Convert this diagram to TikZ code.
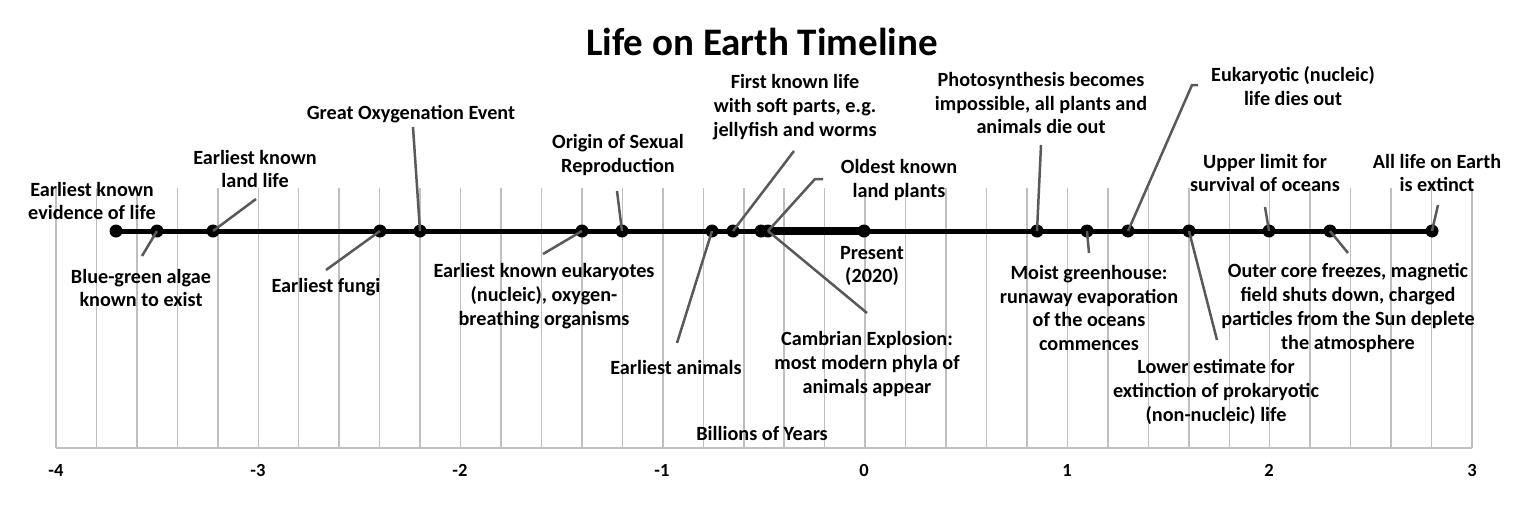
\documentclass[tikz,border=0pt]{standalone}
\usepackage{fontspec}
\setmainfont{Carlito}
\begin{document}
\begin{tikzpicture}[x=1pt,y=-1pt,
  lbl/.style={font=\bfseries\fontsize{20.2}{23.8}\selectfont,align=center,inner sep=0pt},
  dot/.style={circle,fill=black,minimum size=13pt,inner sep=0pt},
  lead/.style={draw=black!65,line width=2.5pt},
  grid/.style={draw=black!25,line width=1.5pt},
  tick/.style={font=\bfseries\fontsize{18.5}{22}\selectfont,inner sep=0pt}]
\useasboundingbox (0,0) rectangle (1522,509);
\fill[white] (0,0) rectangle (1522,509);
% grid
\foreach \i in {0,...,35}{
  \draw[grid] ({56+\i*40.4571},188) -- ({56+\i*40.4571},448);
}
\draw[grid] (56,448) -- (1472,448);
% title
\node[font=\bfseries\fontsize{39}{44}\selectfont,inner sep=0pt] (title) at (762,42) {Life on Earth Timeline};
% tick labels
\foreach \v/\xx in {-4/56,-3/258,-2/460,-1/662,0/864,1/1067,2/1269,3/1472}{
  \node[tick] at (\xx,470) {\v};
}
\node[lbl] (axis) at (762,433) {Billions of Years};
% timeline
\draw[line width=5pt] (116,231) -- (1431,231);
\draw[line width=7.5pt] (757,231) -- (864,231);
% dots
\node[dot] (e1) at (116,231) {};
\node[dot] (e2) at (157,231) {};
\node[dot] (e3) at (213,231) {};
\node[dot] (e4) at (380,231) {};
\node[dot] (e5) at (420,231) {};
\node[dot] (e6) at (582,231) {};
\node[dot] (e7) at (622,231) {};
\node[dot] (e8) at (712,231) {};
\node[dot] (e9) at (733,231) {};
\node[dot] (e10) at (761,231) {};
\node[dot] (e11) at (768,231) {};
\node[dot] (e12) at (864,231) {};
\node[dot] (e13) at (1037,231) {};
\node[dot] (e14) at (1087,231) {};
\node[dot] (e15) at (1128,231) {};
\node[dot] (e16) at (1189,231) {};
\node[dot] (e17) at (1269,231) {};
\node[dot] (e18) at (1330,231) {};
\node[dot] (e19) at (1432,231) {};
% labels
\node[lbl] (l1) at (92,201) {Earliest known\\evidence of life};
\node[lbl] (l2) at (141,288) {Blue-green algae\\known to exist};
\node[lbl] (l3) at (255,169) {Earliest known\\land life};
\node[lbl] (l4) at (326,287) {Earliest fungi};
\node[lbl] (l5) at (411,114) {Great Oxygenation Event};
\node[lbl] (l6) at (544,296) {Earliest known eukaryotes\\(nucleic), oxygen-\\breathing organisms};
\node[lbl] (l7) at (618,155) {Origin of Sexual\\Reproduction};
\node[lbl] (l8) at (676,367) {Earliest animals};
\node[lbl] (l9) at (795,107) {First known life\\with soft parts, e.g.\\jellyfish and worms};
\node[lbl] (l10) at (867,364) {Cambrian Explosion:\\most modern phyla of\\animals appear};
\node[lbl] (l11) at (899,180) {Oldest known\\land plants};
\node[lbl] (l12) at (872,266) {Present\\(2020)};
\node[lbl] (l13) at (1041,103) {Photosynthesis becomes\\impossible, all plants and\\animals die out};
\node[lbl] (l14) at (1089,308) {Moist greenhouse:\\runaway evaporation\\of the oceans\\commences};
\node[lbl] (l15) at (1293,86) {Eukaryotic (nucleic)\\life dies out};
\node[lbl] (l16) at (1216,392) {Lower estimate for\\extinction of prokaryotic\\(non-nucleic) life};
\node[lbl] (l17) at (1265,173) {Upper limit for\\survival of oceans};
\node[lbl] (l18) at (1348,308) {Outer core freezes, magnetic\\field shuts down, charged\\particles from the Sun deplete\\the atmosphere};
\node[lbl] (l19) at (1437,173) {All life on Earth\\is extinct};
% leader ends
\coordinate (c2) at (142,256);
\coordinate (c3) at (256,199);
\coordinate (c4) at (326,270);
\coordinate (c5) at (413,127);
\coordinate (c6) at (543,254);
\coordinate (c7) at (617,191);
\coordinate (c8) at (677,343);
\coordinate (c9) at (794,151);
\coordinate (c10) at (867,313);
\coordinate (c11a) at (815,179);
\coordinate (c11b) at (823,179);
\coordinate (c13) at (1041,145);
\coordinate (c14) at (1089,253);
\coordinate (c15a) at (1192,85);
\coordinate (c15b) at (1198,85);
\coordinate (c16) at (1217,340);
\coordinate (c17) at (1265,207);
\coordinate (c18) at (1348,253);
\coordinate (c19) at (1438,205);
% leaders
\draw[lead] (e2.center) -- (c2);
\draw[lead] (e3.center) -- (c3);
\draw[lead] (e4.center) -- (c4);
\draw[lead] (e5.center) -- (c5);
\draw[lead] (e6.center) -- (c6);
\draw[lead] (e7.center) -- (c7);
\draw[lead] (e8.center) -- (c8);
\draw[lead] (e9.center) -- (c9);
\draw[lead] (e11.center) -- (c10);
\draw[lead] (e11.center) -- (c11a) -- (c11b);
\draw[lead] (e13.center) -- (c13);
\draw[lead] (e14.center) -- (c14);
\draw[lead] (e15.center) -- (c15a) -- (c15b);
\draw[lead] (e16.center) -- (c16);
\draw[lead] (e17.center) -- (c17);
\draw[lead] (e18.center) -- (c18);
\draw[lead] (e19.center) -- (c19);
\end{tikzpicture}
\end{document}
